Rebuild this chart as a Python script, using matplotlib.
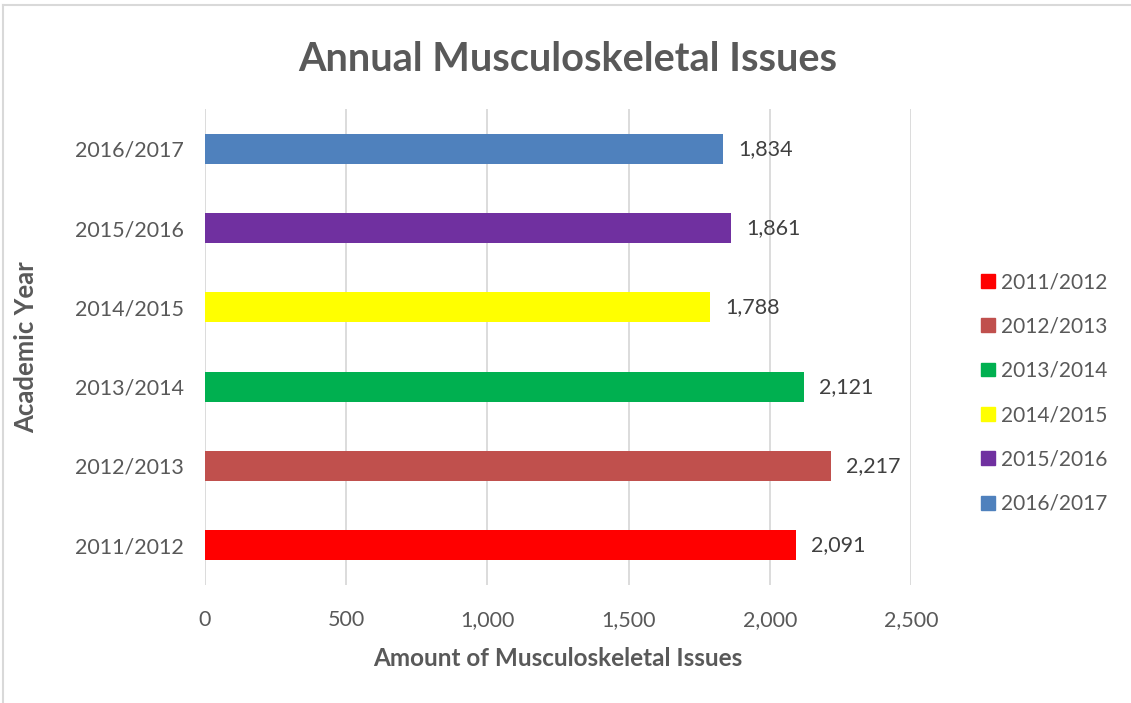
import matplotlib.pyplot as plt
from matplotlib.patches import Patch
from matplotlib.lines import Line2D
from matplotlib.ticker import FuncFormatter

plt.rcParams['font.family'] = ['Lato', 'DejaVu Sans']

# Daten
jahre = ['2011/2012', '2012/2013', '2013/2014', '2014/2015', '2015/2016', '2016/2017']
werte = [2091, 2217, 2121, 1788, 1861, 1834]
farben = ['#FF0000', '#C0504D', '#00B050', '#FFFF00', '#7030A0', '#4F81BD']
xticks = [0, 500, 1000, 1500, 2000, 2500]

grau = '#595959'

fig = plt.figure(figsize=(11.31, 7.03), dpi=100)
ax = fig.add_axes([0.1813, 0.1679, 0.6242, 0.677])

ax.barh(range(len(jahre)), werte, height=0.38, color=farben, zorder=3)
for i, v in enumerate(werte):
    ax.annotate(f'{v:,}', (v, i), xytext=(11, 0), textcoords='offset points',
                va='center', ha='left', fontsize=15.5, color='#404040')

ax.set_xlim(0, 2500)
ax.set_ylim(-0.5, len(jahre) - 0.5)
ax.set_xticks(xticks)
ax.xaxis.set_major_formatter(FuncFormatter(lambda x, p: f'{int(x):,}'))
ax.set_yticks(range(len(jahre)))
ax.set_yticklabels(jahre)
ax.tick_params(length=0, labelsize=15.5, labelcolor=grau)
ax.tick_params(axis='x', pad=18)
ax.tick_params(axis='y', pad=15)
ax.grid(axis='x', color='#D9D9D9', linewidth=1.3, zorder=0)
for s in ax.spines.values():
    s.set_visible(False)

ax.set_xlabel('Amount of Musculoskeletal Issues', fontsize=17.5, fontweight='bold',
              color=grau, labelpad=12)
ax.set_ylabel('Academic Year', fontsize=18.5, fontweight='bold', color=grau)
ax.yaxis.set_label_coords(-0.237, 0.5)
fig.text(0.502, 0.915, 'Annual Musculoskeletal Issues', ha='center', va='center',
         fontsize=28.5, fontweight='bold', color=grau)

handles = [Patch(color=c, label=j) for j, c in zip(jahre, farben)]
fig.legend(handles=handles, loc='center left', bbox_to_anchor=(0.851, 0.441),
           frameon=False, fontsize=15, labelcolor=grau, handlelength=0.65,
           handleheight=0.65, handletextpad=0.3, labelspacing=1.17)

# Rahmen oben und links
fig.add_artist(Line2D([0.003, 0.003], [0, 0.993], transform=fig.transFigure,
                      color='#D9D9D9', linewidth=1.5))
fig.add_artist(Line2D([0.003, 1], [0.993, 0.993], transform=fig.transFigure,
                      color='#D9D9D9', linewidth=1.5))

fig.savefig('out.png', dpi=100)
